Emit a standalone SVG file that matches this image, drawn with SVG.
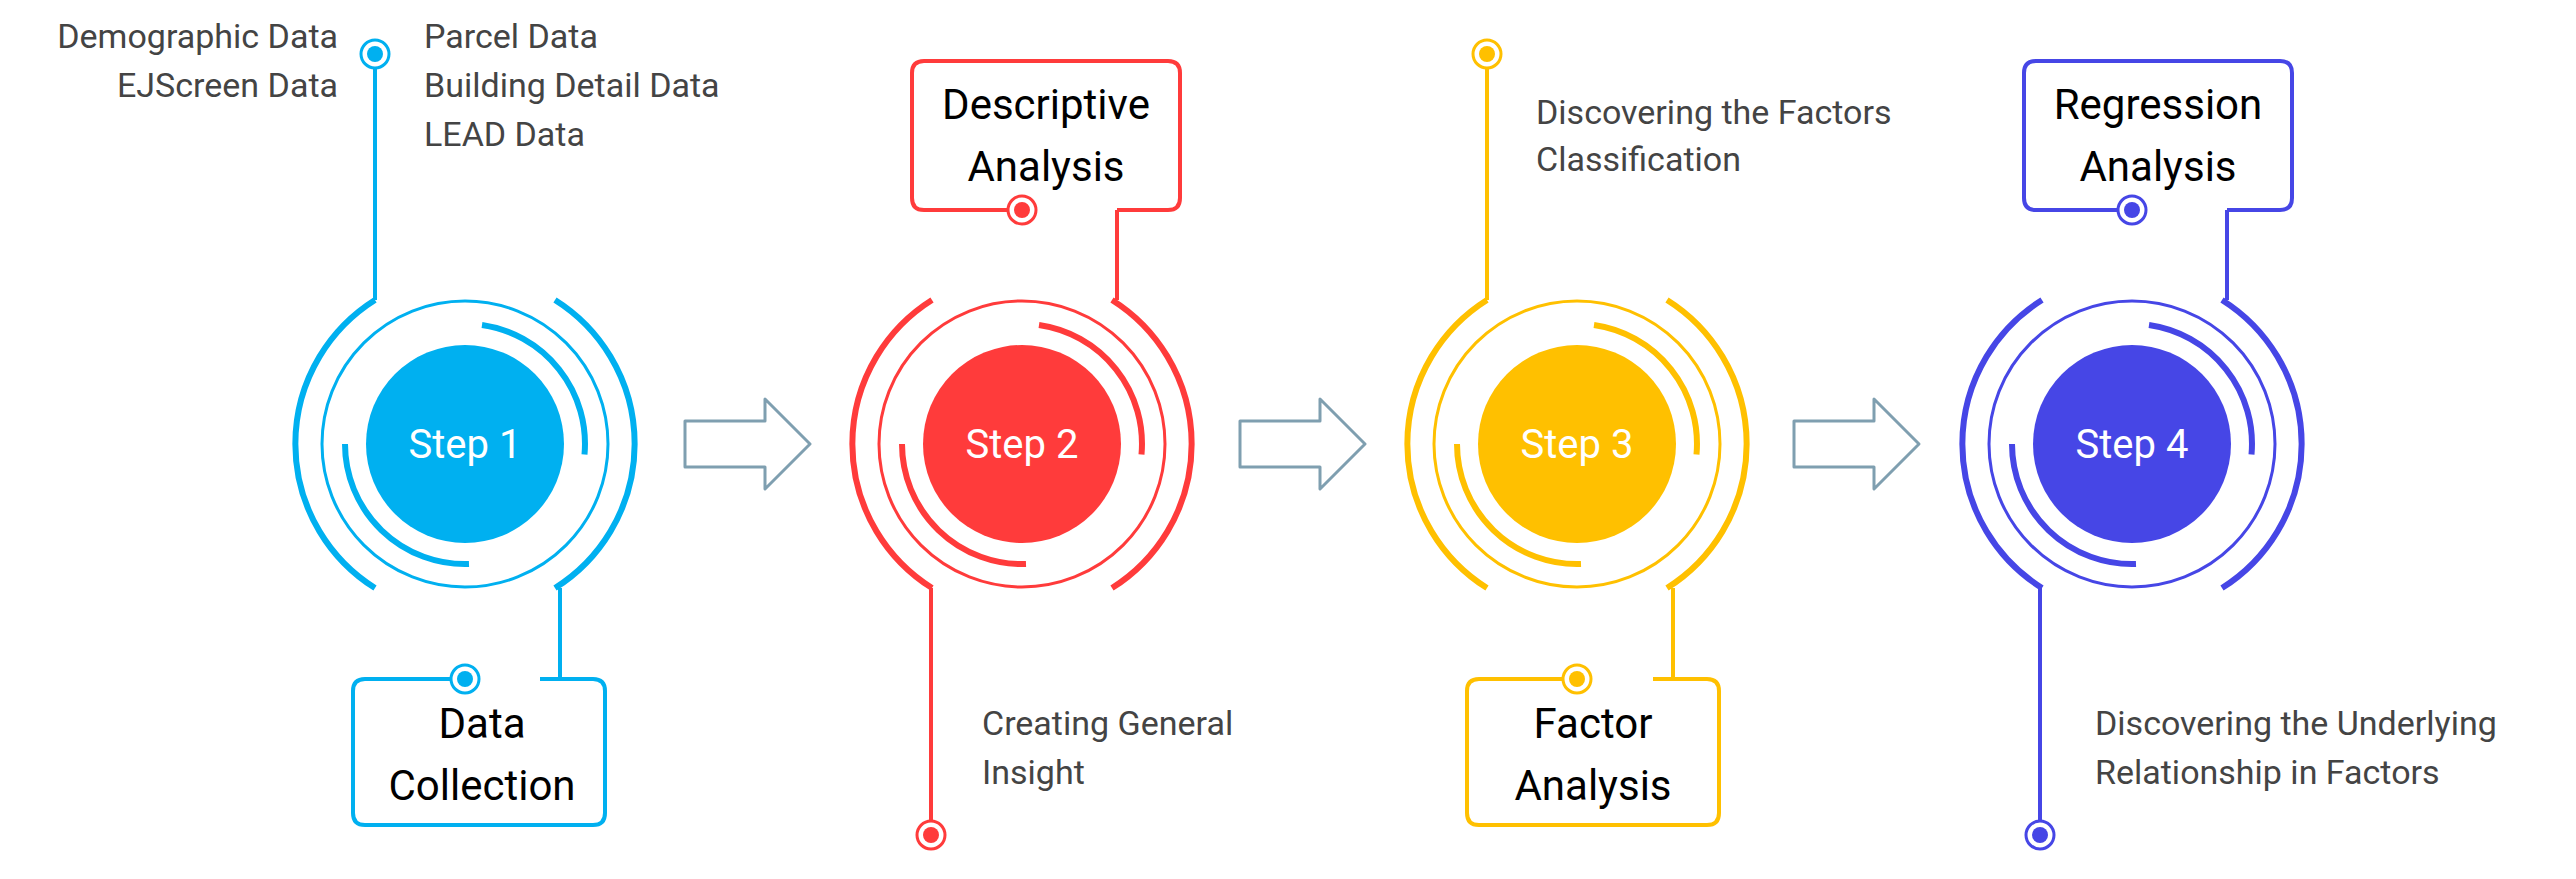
<svg xmlns="http://www.w3.org/2000/svg" width="2576" height="879" viewBox="0 0 2576 879">
<style>
.ring{fill:none;stroke-width:3}
.arc{fill:none;stroke-width:6;stroke-linecap:butt}
.ln{fill:none;stroke-width:4}
.lab{font-family:Roboto,"Liberation Sans",sans-serif;font-size:34px;fill:#444}
.box{font-family:Roboto,"Liberation Sans",sans-serif;font-size:42px;fill:#000;text-anchor:middle}
.st{font-family:Roboto,"Liberation Sans",sans-serif;font-size:40px;fill:#fff;text-anchor:middle}
.arr{fill:#fff;stroke:#7f9fb0;stroke-width:3;stroke-linejoin:round}
.b{stroke:#00b0f0}.r{stroke:#ff3b3b}.y{stroke:#ffc000}.p{stroke:#4646e6}
</style>
<defs>
<g id="rings">
<circle r="143" class="ring"/>
<path class="arc" d="M-90 -144 A170 170 0 0 0 -90 144 M90 -144 A170 170 0 0 1 90 144 M17 -119 A120 120 0 0 1 119.5 10.5 M4 120 A120 120 0 0 1 -120 0"/>
</g>
</defs>
<rect width="2576" height="879" fill="#fff"/>
<g id="connectors">
<path class="ln b" d="M375 68 V300 M560 588 V679 M451 679 H365 Q353 679 353 691 V813 Q353 825 365 825 H593 Q605 825 605 813 V691 Q605 679 593 679 H540"/>
<path class="ln r" d="M1117 300 V210 M931 588 V821 M1008 210 H924 Q912 210 912 198 V73 Q912 61 924 61 H1168 Q1180 61 1180 73 V198 Q1180 210 1168 210 H1117"/>
<path class="ln y" d="M1487 68 V300 M1673 588 V679 M1563 679 H1479 Q1467 679 1467 691 V813 Q1467 825 1479 825 H1707 Q1719 825 1719 813 V691 Q1719 679 1707 679 H1653"/>
<path class="ln p" d="M2227 300 V210 M2040 588 V821 M2118 210 H2036 Q2024 210 2024 198 V73 Q2024 61 2036 61 H2280 Q2292 61 2292 73 V198 Q2292 210 2280 210 H2227"/>
<path class="arr" d="M685 421 H765 V399 L810 444 L765 489 V467 H685 Z"/>
<path class="arr" d="M1240 421 H1320 V399 L1365 444 L1320 489 V467 H1240 Z"/>
<path class="arr" d="M1794 421 H1874 V399 L1919 444 L1874 489 V467 H1794 Z"/>
</g>
<g id="step1">
<use href="#rings" x="465" y="444" class="b"/>
<circle cx="465" cy="444" r="99" fill="#00b0f0"/>
<text class="st" x="465" y="458">Step 1</text>
<circle cx="375" cy="54" r="14" fill="#fff" stroke="#00b0f0" stroke-width="3"/><circle cx="375" cy="54" r="8" fill="#00b0f0"/>
<circle cx="465" cy="679" r="14" fill="#fff" stroke="#00b0f0" stroke-width="3"/><circle cx="465" cy="679" r="8" fill="#00b0f0"/>
<text class="lab" x="338" y="48" text-anchor="end">Demographic Data</text>
<text class="lab" x="338" y="97" text-anchor="end">EJScreen Data</text>
<text class="lab" x="424" y="48">Parcel Data</text>
<text class="lab" x="424" y="97">Building Detail Data</text>
<text class="lab" x="424" y="146">LEAD Data</text>
<text class="box" x="482" y="738">Data</text>
<text class="box" x="482" y="800">Collection</text>
</g>
<g id="step2">
<use href="#rings" x="1022" y="444" class="r"/>
<circle cx="1022" cy="444" r="99" fill="#ff3b3b"/>
<text class="st" x="1022" y="458">Step 2</text>
<circle cx="1022" cy="210" r="14" fill="#fff" stroke="#ff3b3b" stroke-width="3"/><circle cx="1022" cy="210" r="8" fill="#ff3b3b"/>
<circle cx="931" cy="835" r="14" fill="#fff" stroke="#ff3b3b" stroke-width="3"/><circle cx="931" cy="835" r="8" fill="#ff3b3b"/>
<text class="box" x="1046" y="119">Descriptive</text>
<text class="box" x="1046" y="181">Analysis</text>
<text class="lab" x="982" y="735">Creating General</text>
<text class="lab" x="982" y="784">Insight</text>
</g>
<g id="step3">
<use href="#rings" x="1577" y="444" class="y"/>
<circle cx="1577" cy="444" r="99" fill="#ffc000"/>
<text class="st" x="1577" y="458">Step 3</text>
<circle cx="1487" cy="54" r="14" fill="#fff" stroke="#ffc000" stroke-width="3"/><circle cx="1487" cy="54" r="8" fill="#ffc000"/>
<circle cx="1577" cy="679" r="14" fill="#fff" stroke="#ffc000" stroke-width="3"/><circle cx="1577" cy="679" r="8" fill="#ffc000"/>
<text class="lab" x="1536" y="124">Discovering the Factors</text>
<text class="lab" x="1536" y="171">Classification</text>
<text class="box" x="1593" y="738">Factor</text>
<text class="box" x="1593" y="800">Analysis</text>
</g>
<g id="step4">
<use href="#rings" x="2132" y="444" class="p"/>
<circle cx="2132" cy="444" r="99" fill="#4646e6"/>
<text class="st" x="2132" y="458">Step 4</text>
<circle cx="2132" cy="210" r="14" fill="#fff" stroke="#4646e6" stroke-width="3"/><circle cx="2132" cy="210" r="8" fill="#4646e6"/>
<circle cx="2040" cy="835" r="14" fill="#fff" stroke="#4646e6" stroke-width="3"/><circle cx="2040" cy="835" r="8" fill="#4646e6"/>
<text class="box" x="2158" y="119">Regression</text>
<text class="box" x="2158" y="181">Analysis</text>
<text class="lab" x="2095" y="735">Discovering the Underlying</text>
<text class="lab" x="2095" y="784">Relationship in Factors</text>
</g>
</svg>
